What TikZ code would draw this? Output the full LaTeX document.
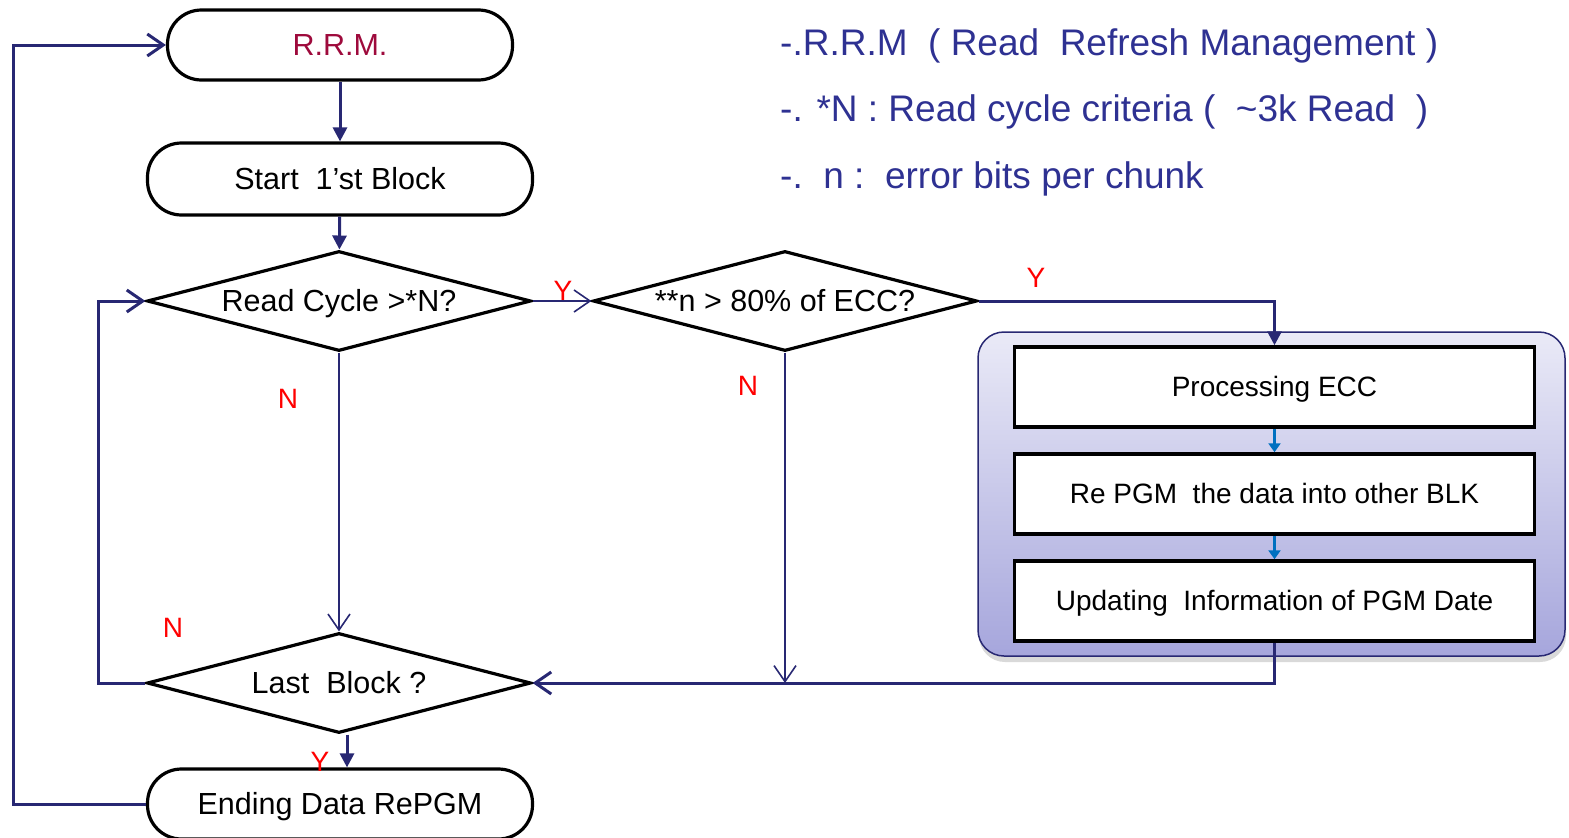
\documentclass[tikz,border=0pt]{standalone}
\usepackage{fontspec}
\setmainfont{Liberation Sans}
\usetikzlibrary{arrows.meta,shapes.geometric,shadows,calc}
\definecolor{navy}{RGB}{40,40,115}
\definecolor{legend}{RGB}{46,49,146}
\definecolor{rrmred}{RGB}{158,10,60}
\definecolor{bluearr}{RGB}{0,112,192}
\definecolor{grptop}{RGB}{234,234,247}
\definecolor{grpbot}{RGB}{166,166,220}
\begin{document}
\begin{tikzpicture}[x=1pt,y=-1pt,
  nodefont/.style={font=\fontsize{30.5}{34}\selectfont, text height=21.5pt, text depth=0pt},
  term/.style={draw=black, fill=white, line width=3.2pt, rounded corners=34pt,
    minimum height=70pt, inner sep=0pt, nodefont},
  dec/.style={diamond, draw=black, fill=white, line width=3.2pt, aspect=3.8,
    minimum width=384pt, minimum height=100pt, inner sep=0pt, nodefont},
  procbox/.style={draw=black, fill=white, line width=3.5pt, minimum width=520pt,
    minimum height=80pt, inner sep=0pt, font=\fontsize{28}{32}\selectfont,
    text height=19.5pt, text depth=0pt},
  grpbox/.style={draw=navy, line width=1.5pt, rounded corners=26pt,
    top color=grptop, bottom color=grpbot, minimum width=587pt, minimum height=324pt,
    drop shadow={shadow xshift=1pt, shadow yshift=-6pt, opacity=0.3, fill=gray}},
  thickline/.style={draw=navy, line width=3pt},
  thinline/.style={draw=navy, line width=1.6pt},
  tri/.style={-{Triangle[length=14pt,width=14pt]}},
  barb/.style={-{Straight Barb[length=16pt,width=22pt]}},
  lbl/.style={text=red, font=\fontsize{28}{30}\selectfont, inner sep=0pt},
  leg/.style={text=legend, font=\fontsize{37}{40}\selectfont, anchor=base west, inner sep=0pt}
]
\useasboundingbox (0,0) rectangle (1569,838);

% legend
\node[leg] (l1) at (780,55) {-.R.R.M\ \ (\ Read\ \ Refresh Management\ )};
\node[leg] (l2) at (780,121) {-. *N : Read cycle criteria (\ \ \textasciitilde3k Read\ \ )};
\node[leg] (l3) at (780,188) {-.\ \ n :\ \ error bits per chunk};

% group
\node[grpbox] (grp) at (1271.5,494) {};

% nodes
\node[term, minimum width=345pt, text=rrmred] (rrm) at (340,45) {R.R.M.};
\node[term, minimum width=385pt, minimum height=72pt] (start) at (340,179) {Start\ \ 1’st Block};
\node[dec] (d1) at (339,301) {Read Cycle >*N?};
\node[dec] (d2) at (785,301) {**n > 80\% of ECC?};
\node[dec] (d3) at (339,683) {Last\ \ Block ?};
\node[term, minimum width=385pt] (end) at (340,804) {Ending Data RePGM};

\node[procbox] (proc) at (1274.5,387) {Processing ECC};
\node[procbox] (repgm) at (1274.5,494) {Re PGM\ \ the data into other BLK};
\node[procbox] (upd) at (1274.5,601) {Updating\ \ Information of PGM Date};

% connectors
\draw[thickline,tri] (rrm) -- (start);
\draw[thickline,tri] (start) -- (d1);
\draw[thinline,barb] (d1.east) -- (d2.west);
\draw[thickline,tri] (d2.east) -| (proc.north);
\draw[draw=bluearr, line width=3pt, -{Triangle[length=9pt,width=12pt]}] (proc.south) -- (repgm.north);
\draw[draw=bluearr, line width=3pt, -{Triangle[length=9pt,width=12pt]}] (repgm.south) -- (upd.north);
\draw[thickline,barb] (upd.south) |- (d3.east);
\draw[thinline,barb] (d2.south) -- (d2.south |- d3.east);
\draw[thinline,barb] (d1.south) -- (d3.north);
\coordinate (lp) at (98,683);
\draw[thickline,barb] (d3.west) -- (lp) |- (d1.west);
\coordinate (ol) at (13,804);
\draw[thickline,barb] (end.west) -- (ol) |- (rrm.west);
\draw[thickline,tri] ([xshift=8pt]d3.south) -- ([xshift=8pt]d3.south |- end.north);

% labels
\node[lbl] (y1) at (563,291) {Y};
\node[lbl] (y2) at (1036,278) {Y};
\node[lbl] (n1) at (288,399) {N};
\node[lbl] (n2) at (748,386) {N};
\node[lbl] (n3) at (173,628) {N};
\node[lbl] (y3) at (320,762) {Y};
\end{tikzpicture}
\end{document}
